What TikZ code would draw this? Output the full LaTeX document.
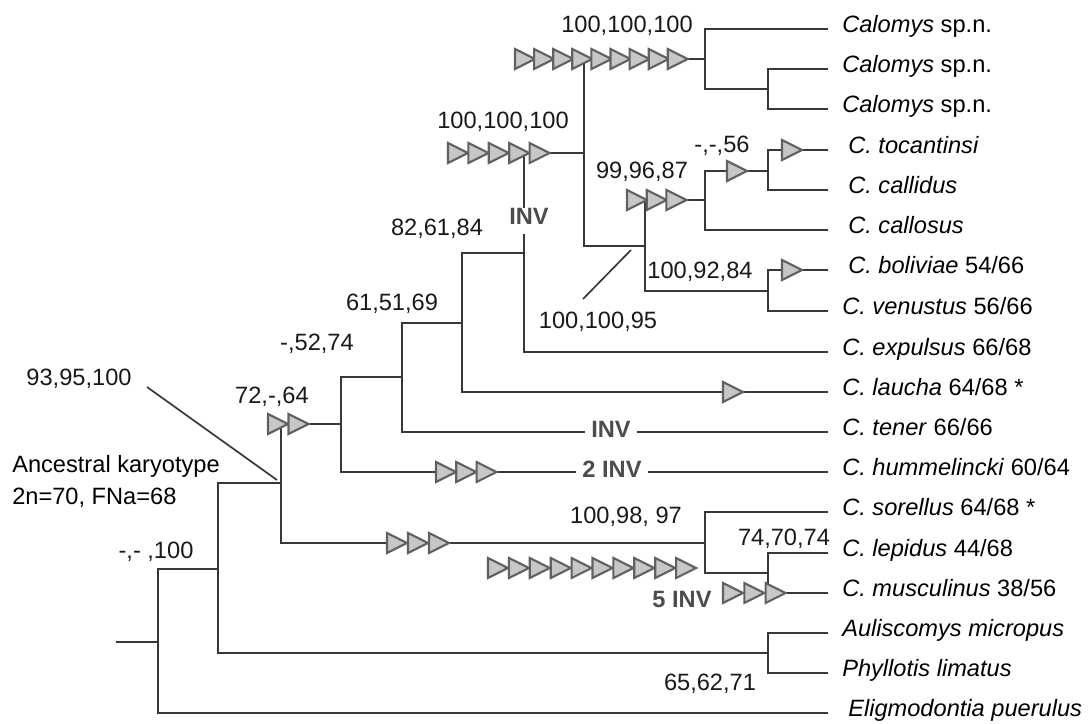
\documentclass[tikz,border=0pt]{standalone}
\usepackage{fontspec}
\setmainfont{Liberation Sans}
\usetikzlibrary{calc}
\tikzset{
  br/.style={draw=black!78, line width=1.4pt},
  tri/.style={draw=black!62, fill=black!22, line width=1.5pt, line join=miter},
  txt/.style={inner sep=0pt, font=\fontsize{16.8}{20}\selectfont,
    text height=0.75em, text depth=0.2em},
  supp/.style={txt, text=black!90},
  invlab/.style={txt, font=\fontsize{16.8}{20}\selectfont\bfseries,
    text=black!70, fill=white, inner sep=0.17cm},
  leaf/.style={txt, anchor=west, inner xsep=0.35cm, inner ysep=0pt},
  leafw/.style={leaf, inner xsep=0.5cm},
}
% row of karyotype changes: start x, y, count, step
\newcommand{\rearr}[4]{%
  \foreach \k in {1,...,#3}{%
    \draw[tri] ({#1+(\k-1)*#4},{#2-10}) -- ++(20,10) -- ++(-20,10) -- cycle;}}

\begin{document}
\begin{tikzpicture}[x=0.025cm, y=-0.025cm]
  \useasboundingbox (0,0) rectangle (1088,724);

  % Leaves
  \node[leaf] (calA) at (828,29) {\textit{Calomys} sp.n.};
  \node[leaf] (calB) at (828,69) {\textit{Calomys} sp.n.};
  \node[leaf] (calC) at (828,109) {\textit{Calomys} sp.n.};
  \node[leafw] (toc) at (828,150) {\textit{C. tocantinsi}};
  \node[leafw] (cld) at (828,190) {\textit{C. callidus}};
  \node[leafw] (cls) at (828,230) {\textit{C. callosus}};
  \node[leafw] (bol) at (828,270) {\textit{C. boliviae} 54/66};
  \node[leaf] (ven) at (828,311) {\textit{C. venustus} 56/66};
  \node[leaf] (exp) at (828,352) {\textit{C. expulsus} 66/68};
  \node[leaf] (lau) at (828,392) {\textit{C. laucha} 64/68 *};
  \node[leaf] (ten) at (828,432) {\textit{C. tener} 66/66};
  \node[leaf] (hum) at (828,472) {\textit{C. hummelincki} 60/64};
  \node[leaf] (sor) at (828,512) {\textit{C. sorellus} 64/68 *};
  \node[leaf] (lep) at (828,553) {\textit{C. lepidus} 44/68};
  \node[leaf] (mus) at (828,593) {\textit{C. musculinus} 38/56};
  \node[leaf] (aul) at (828,633) {\textit{Auliscomys micropus}};
  \node[leaf] (phy) at (828,673) {\textit{Phyllotis limatus}};
  \node[leafw] (eli) at (828,713) {\textit{Eligmodontia puerulus}};

  % Internal nodes
  \coordinate (calo2) at (768,89);
  \coordinate (calo) at (705,59);
  \coordinate (tocC) at (768,171);
  \coordinate (callC) at (705,200);
  \coordinate (bolC) at (768,291);
  \coordinate (cbc) at (645,246);
  \coordinate (calTop) at (584,153);
  \coordinate (expC) at (524,253);
  \coordinate (lauC) at (462,323);
  \coordinate (tenC) at (402,377);
  \coordinate (humC) at (341,424);
  \coordinate (cRoot) at (281,483);
  \coordinate (lepC) at (768,573);
  \coordinate (sorC) at (705,543);
  \coordinate (aulC) at (768,653);
  \coordinate (ing) at (218,569);
  \coordinate (root) at (158,642);
  \coordinate (base) at (116,642);

  % Branches
  \draw[br] (calo2) |- (calB.west);
  \draw[br] (calo2) |- (calC.west);
  \draw[br] (calo) |- (calA.west);
  \draw[br] (calo) |- (calo2);
  \draw[br] (tocC) |- (toc.west);
  \draw[br] (tocC) |- (cld.west);
  \draw[br] (callC) |- (tocC);
  \draw[br] (callC) |- (cls.west);
  \draw[br] (bolC) |- (bol.west);
  \draw[br] (bolC) |- (ven.west);
  \draw[br] (cbc) |- (callC);
  \draw[br] (cbc) |- (bolC);
  \draw[br] (calTop) |- (calo);
  \draw[br] (calTop) |- (cbc);
  \draw[br] (expC) |- (calTop);
  \draw[br] (expC) |- (exp.west);
  \draw[br] (lauC) |- (expC);
  \draw[br] (lauC) |- (lau.west);
  \draw[br] (tenC) |- (lauC);
  \draw[br] (tenC) |- (ten.west);
  \draw[br] (humC) |- (tenC);
  \draw[br] (humC) |- (hum.west);
  \draw[br] (lepC) |- (lep.west);
  \draw[br] (lepC) |- (mus.west);
  \draw[br] (sorC) |- (sor.west);
  \draw[br] (sorC) |- (lepC);
  \draw[br] (cRoot) |- (humC);
  \draw[br] (cRoot) |- (sorC);
  \draw[br] (aulC) |- (aul.west);
  \draw[br] (aulC) |- (phy.west);
  \draw[br] (ing) |- (cRoot);
  \draw[br] (ing) |- (aulC);
  \draw[br] (root) |- (ing);
  \draw[br] (root) |- (eli.west);
  \draw[br] (base) -- (root);

  % Karyotype changes
  \rearr{515}{59}{9}{19.1}
  \rearr{448}{153}{5}{20.4}
  \rearr{627}{200}{3}{19.7}
  \rearr{727}{171}{1}{20}
  \rearr{782}{150}{1}{20}
  \rearr{782}{270}{1}{20}
  \rearr{723}{392}{1}{20}
  \rearr{268}{424}{2}{20.5}
  \rearr{436}{472}{3}{20.3}
  \rearr{387}{543}{3}{21}
  \rearr{488}{568}{10}{20.9}
  \rearr{723}{593}{3}{21.3}

  % Inversions
  \node[invlab] (inv1) at (529,221) {INV};
  \node[invlab] (inv2) at (611,434) {INV};
  \node[invlab] (inv3) at (612,474) {2 INV};
  \node[invlab, fill=none] (inv5) at (682,604) {5 INV};

  % Support values
  \node[supp] (s1) at (627,29) {100,100,100};
  \node[supp] (s2) at (503,125) {100,100,100};
  \node[supp] (s3) at (722,149) {-,-,56};
  \node[supp] (s4) at (642,175) {99,96,87};
  \node[supp] (s5) at (437,232) {82,61,84};
  \node[supp] (s6) at (700,275) {100,92,84};
  \node[supp] (s7) at (598,325) {100,100,95};
  \node[supp] (s8) at (392,307) {61,51,69};
  \node[supp] (s9) at (317,347) {-,52,74};
  \node[supp] (s10) at (79,382) {93,95,100};
  \node[supp] (s11) at (272,400) {72,-,64};
  \node[supp] (s12) at (626,520) {100,98, 97};
  \node[supp] (s13) at (784,542) {74,70,74};
  \node[supp] (s14) at (710,687) {65,62,71};
  \node[supp] (s15) at (156,555) {-,- ,100};
  \coordinate (p7a) at (583,299);
  \coordinate (p7b) at (631,250);
  \draw[br, line width=1.2pt] (p7a) -- (p7b);
  \coordinate (p10a) at (147,387);
  \coordinate (p10b) at (277,480);
  \draw[br, line width=1.2pt] (p10a) -- (p10b);

  % Ancestral karyotype
  \node[txt, anchor=base west] (anc1) at (12,472) {Ancestral karyotype};
  \node[txt, anchor=base west] (anc2) at (12,504) {2n=70, FNa=68};
\end{tikzpicture}
\end{document}
